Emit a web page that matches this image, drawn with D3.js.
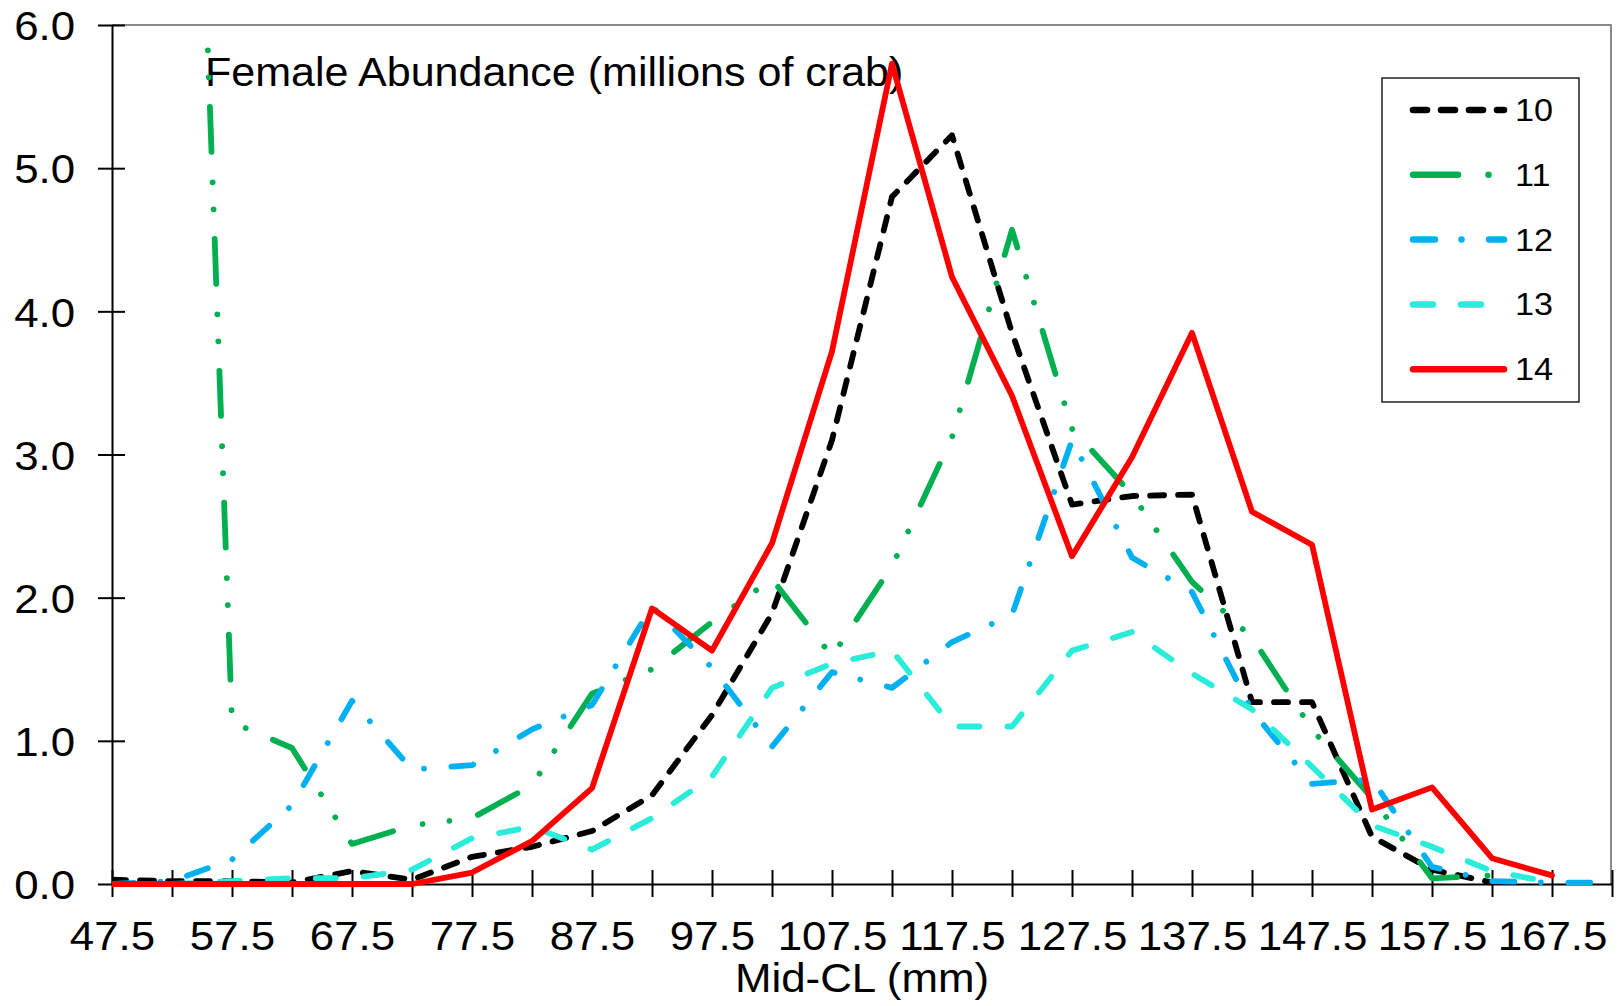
<!DOCTYPE html>
<html>
<head>
<meta charset="utf-8">
<script src="https://cdn.jsdelivr.net/npm/d3@7"></script>
<style>
  body { margin: 0; background: #fff; }
  text { font-family: "Liberation Sans", Arial, sans-serif; fill: #000; }
</style>
</head>
<body>
<svg id="chart" width="1619" height="1006"></svg>
<script>
// mid carapace length bins (mm)
var midCL = [47.5, 52.5, 57.5, 62.5, 67.5, 72.5, 77.5, 82.5, 87.5, 92.5, 97.5, 102.5, 107.5,
  112.5, 117.5, 122.5, 127.5, 132.5, 137.5, 142.5, 147.5, 152.5, 157.5, 162.5, 167.5, 172.5];

// female abundance, millions of crab, one array per year
var yr10 = [0.03, 0.02, 0.02, 0.01, 0.09, 0.03, 0.19, 0.26, 0.37, 0.62, 1.18, 1.89, 3.1,
  4.80, 5.23, 3.85, 2.65, 2.71, 2.72, 1.27, 1.27, 0.33, 0.10, 0.01, null, null];
var yr11 = [null, 12.8, 1.13, 0.95, 0.28, 0.41, 0.46, 0.69, 1.33, 1.50, 1.83, 2.13, 1.59,
  2.22, 3.12, 4.57, 3.18, 2.72, 2.11, 1.72, 1.08, 0.60, 0.04, 0.06, null, null];
var yr12 = [0.0, 0.02, 0.17, 0.55, 1.28, 0.80, 0.83, 1.08, 1.25, 1.94, 1.51, 0.96, 1.48,
  1.37, 1.69, 1.88, 3.10, 2.28, 2.04, 1.21, 0.70, 0.73, 0.12, 0.02, 0.01, 0.01];
var yr13 = [null, 0.0, 0.02, 0.04, 0.04, 0.10, 0.32, 0.40, 0.24, 0.46, 0.75, 1.37, 1.54,
  1.63, 1.10, 1.10, 1.63, 1.76, 1.47, 1.22, 0.82, 0.41, 0.26, 0.09, 0.01, null];
var yr14 = [0, 0, 0, 0, 0, 0, 0.08, 0.30, 0.67, 1.925, 1.63, 2.38, 3.72,
  5.73, 4.24, 3.41, 2.29, 2.98, 3.85, 2.60, 2.37, 0.52, 0.675, 0.18, 0.06, null];

var seriesNames = ["10", "11", "12", "13", "14"];
var yTicks = [0, 1, 2, 3, 4, 5, 6];
var xTickLabels = ["47.5", "57.5", "67.5", "77.5", "87.5", "97.5", "107.5", "117.5",
  "127.5", "137.5", "147.5", "157.5", "167.5"];

var series = [
  {name: seriesNames[0], values: yr10, color: "#000000", dash: "14,14"},
  {name: seriesNames[1], values: yr11, color: "#00B050", dash: "45,30.5,0.01,27,0.01,29.5"},
  {name: seriesNames[2], values: yr12, color: "#00B0F0", dash: "22,26.5,0.01,27.5"},
  {name: seriesNames[3], values: yr13, color: "#2BEBDB", dash: "20,28"},
  {name: seriesNames[4], values: yr14, color: "#FF0000", dash: null}
];

var svg = d3.select("#chart");
var pLeft = 112, pRight = 1612, pTop = 25, pBottom = 884;
var stretch = "scale(1.07,1)";

var x = d3.scaleLinear().domain([47.5, 172.5]).range([pLeft, pRight]);
var y = d3.scaleLinear().domain([0, 6]).range([pBottom, pTop]);

// grey frame top and right
svg.append("line").attr("x1", pLeft).attr("x2", pRight).attr("y1", pTop).attr("y2", pTop)
  .attr("stroke", "#8a8a8a").attr("stroke-width", 2);
svg.append("line").attr("x1", pRight - 1).attr("x2", pRight - 1).attr("y1", pTop).attr("y2", pBottom)
  .attr("stroke", "#8a8a8a").attr("stroke-width", 2);

// y axis
var yAxis = svg.append("g")
  .attr("transform", "translate(" + pLeft + ",0)")
  .call(d3.axisLeft(y).tickValues(yTicks).tickFormat(d3.format(".1f")).tickSizeOuter(0));
yAxis.select(".domain").attr("stroke", "#000").attr("stroke-width", 2);
yAxis.selectAll(".tick line").attr("x1", 13).attr("x2", -14).attr("stroke", "#000").attr("stroke-width", 2);
yAxis.selectAll(".tick text")
  .attr("font-size", 41).attr("font-family", null)
  .attr("x", -34.5).attr("dy", "0.36em")
  .attr("transform", stretch);

// x axis
var xAxis = svg.append("g")
  .attr("transform", "translate(0," + pBottom + ")")
  .call(d3.axisBottom(x).tickValues(midCL)
    .tickFormat(function(d) { var s = d3.format(".1f")(d); return xTickLabels.indexOf(s) >= 0 ? s : ""; })
    .tickSizeOuter(0));
xAxis.select(".domain").attr("stroke", "#000").attr("stroke-width", 2);
xAxis.selectAll(".tick line").attr("y1", -14).attr("y2", 13).attr("stroke", "#000").attr("stroke-width", 2);
xAxis.selectAll(".tick text")
  .attr("font-size", 41).attr("font-family", null)
  .attr("y", 66).attr("dy", null)
  .attr("transform", stretch);

// axis title
svg.append("g").attr("transform", "translate(862,992) " + stretch)
  .append("text").attr("text-anchor", "middle").attr("font-size", 41).text("Mid-CL (mm)");

// chart title inside plot
svg.append("g").attr("transform", "translate(205,86) scale(1.05,1)")
  .append("text").attr("font-size", 41).text("Female Abundance (millions of crab)");

// lines
svg.append("clipPath").attr("id", "plotclip")
  .append("rect").attr("x", pLeft).attr("y", pTop - 2).attr("width", pRight - pLeft).attr("height", pBottom - pTop + 20);

var line = d3.line()
  .defined(function(d) { return d.v !== null; })
  .x(function(d) { return x(d.x); })
  .y(function(d) { return y(d.v); });

var plot = svg.append("g").attr("clip-path", "url(#plotclip)");
series.forEach(function(s) {
  var pts = midCL.map(function(m, i) { return {x: m, v: s.values[i]}; });
  plot.append("path")
    .datum(pts)
    .attr("d", line)
    .attr("fill", "none")
    .attr("stroke", s.color)
    .attr("stroke-width", 5.8)
    .attr("stroke-linecap", "round")
    .attr("stroke-linejoin", "round")
    .attr("stroke-dasharray", s.dash);
});

// legend
var lg = svg.append("g").attr("transform", "translate(1382,78)");
lg.append("rect").attr("width", 197).attr("height", 324)
  .attr("fill", "#fff").attr("stroke", "#222").attr("stroke-width", 1.5);
series.forEach(function(s, i) {
  var ly = 32 + i * 64.8;
  lg.append("line")
    .attr("x1", 31).attr("x2", 122).attr("y1", ly).attr("y2", ly)
    .attr("stroke", s.color).attr("stroke-width", 6.5)
    .attr("stroke-linecap", "round")
    .attr("stroke-dasharray", s.dash);
  lg.append("g").attr("transform", "translate(133," + (ly + 11) + ") " + stretch)
    .append("text").attr("font-size", 32).text(s.name);
});
</script>
</body>
</html>
